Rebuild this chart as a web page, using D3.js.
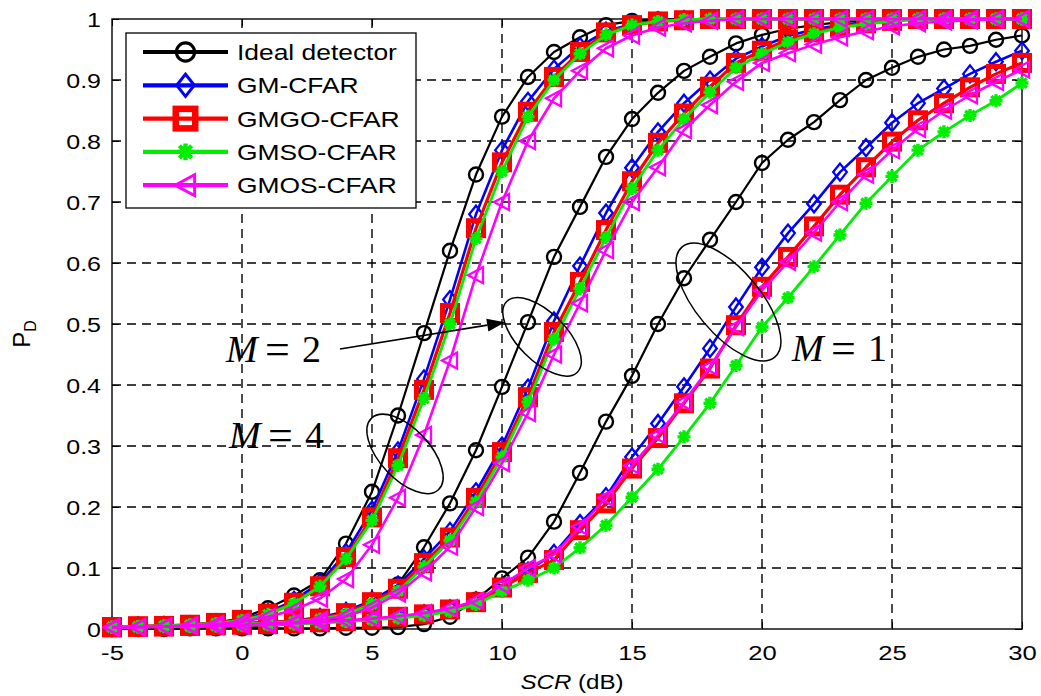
<!DOCTYPE html>
<html><head><meta charset="utf-8">
<script src="https://cdn.jsdelivr.net/npm/d3@7"></script>
<style>body{margin:0;background:#fff}</style>
</head><body><svg id="c" width="1041" height="696"></svg>
<script>
// ---------- data ----------
const snr = [-5,-4,-3,-2,-1,0,1,2,3,4,5,6,7,8,9,10,11,12,13,14,15,16,17,18,19,20,21,22,23,24,25,26,27,28,29,30];
const xTicks = [-5,0,5,10,15,20,25,30];
const xTickLabels = ["-5","0","5","10","15","20","25","30"];
const yTicks = [0,0.1,0.2,0.3,0.4,0.5,0.6,0.7,0.8,0.9,1];
const yTickLabels = ["0","0.1","0.2","0.3","0.4","0.5","0.6","0.7","0.8","0.9","1"];
const seriesNames = ["Ideal detector","GM-CFAR","GMGO-CFAR","GMSO-CFAR","GMOS-CFAR"];
const groups = ["M=4","M=2","M=1"];

// M = 4
const ideal_M4 = [0.002,0.003,0.004,0.006,0.010,0.018,0.034,0.055,0.080,0.140,0.225,0.350,0.485,0.620,0.745,0.840,0.905,0.946,0.970,0.990,0.997,0.999,1,1,1,1,1,1,1,1,1,1,1,1,1,1];
const gm_M4    = [0.003,0.004,0.005,0.007,0.010,0.016,0.027,0.047,0.076,0.125,0.195,0.292,0.410,0.540,0.680,0.785,0.865,0.918,0.955,0.980,0.992,0.997,0.999,1,1,1,1,1,1,1,1,1,1,1,1,1];
const gmgo_M4  = [0.003,0.004,0.005,0.007,0.010,0.015,0.025,0.043,0.070,0.118,0.183,0.280,0.392,0.518,0.657,0.765,0.848,0.905,0.946,0.978,0.990,0.996,0.998,1,1,1,1,1,1,1,1,1,1,1,1,1];
const gmso_M4  = [0.003,0.004,0.005,0.007,0.009,0.014,0.024,0.042,0.070,0.115,0.178,0.268,0.378,0.500,0.640,0.750,0.840,0.900,0.943,0.974,0.990,0.996,0.999,1,1,1,1,1,1,1,1,1,1,1,1,1];
const gmos_M4  = [0.002,0.003,0.004,0.006,0.008,0.012,0.020,0.031,0.050,0.082,0.138,0.215,0.318,0.440,0.580,0.700,0.800,0.870,0.915,0.952,0.973,0.986,0.993,0.997,1,1,1,1,1,1,1,1,1,1,1,1];
// M = 2
const ideal_M2 = [0.001,0.001,0.001,0.002,0.002,0.003,0.005,0.008,0.012,0.020,0.037,0.073,0.134,0.206,0.293,0.397,0.503,0.610,0.692,0.774,0.836,0.879,0.915,0.938,0.960,0.974,0.984,0.990,0.995,0.998,1,1,1,1,1,1];
const gm_M2    = [0.004,0.005,0.005,0.006,0.007,0.009,0.011,0.014,0.019,0.029,0.047,0.072,0.115,0.160,0.225,0.300,0.395,0.505,0.595,0.682,0.756,0.815,0.862,0.900,0.935,0.955,0.972,0.983,0.990,0.995,0.998,1,1,1,1,1];
const gmgo_M2  = [0.003,0.004,0.005,0.006,0.007,0.009,0.011,0.013,0.017,0.026,0.044,0.066,0.108,0.150,0.215,0.290,0.380,0.487,0.569,0.654,0.734,0.797,0.845,0.889,0.928,0.948,0.966,0.978,0.987,0.993,0.997,1,1,1,1,1];
const gmso_M2  = [0.003,0.004,0.005,0.006,0.007,0.008,0.010,0.012,0.016,0.024,0.041,0.062,0.102,0.145,0.208,0.282,0.372,0.475,0.558,0.642,0.722,0.785,0.836,0.880,0.920,0.943,0.962,0.976,0.986,0.992,0.996,1,1,1,1,1];
const gmos_M2  = [0.003,0.003,0.004,0.005,0.006,0.007,0.009,0.011,0.015,0.021,0.035,0.058,0.093,0.135,0.200,0.272,0.354,0.450,0.534,0.621,0.700,0.757,0.818,0.859,0.897,0.928,0.944,0.958,0.970,0.980,0.988,0.993,0.996,0.998,1,1];
// M = 1
const ideal_M1 = [0.000,0.000,0.000,0.001,0.001,0.001,0.001,0.001,0.001,0.002,0.002,0.003,0.008,0.020,0.048,0.083,0.117,0.176,0.256,0.340,0.415,0.500,0.575,0.638,0.700,0.764,0.802,0.831,0.867,0.900,0.920,0.938,0.950,0.956,0.966,0.973];
const gm_M1    = [0.004,0.004,0.005,0.005,0.006,0.007,0.008,0.009,0.011,0.013,0.016,0.020,0.025,0.033,0.046,0.070,0.095,0.124,0.173,0.217,0.282,0.337,0.397,0.460,0.528,0.593,0.649,0.697,0.749,0.789,0.830,0.862,0.886,0.910,0.930,0.948];
const gmgo_M1  = [0.003,0.004,0.004,0.005,0.006,0.007,0.008,0.009,0.011,0.013,0.016,0.020,0.024,0.032,0.044,0.068,0.092,0.113,0.162,0.206,0.263,0.313,0.370,0.427,0.498,0.561,0.610,0.660,0.712,0.757,0.799,0.834,0.862,0.888,0.910,0.928];
const gmso_M1  = [0.003,0.003,0.004,0.004,0.005,0.006,0.007,0.008,0.010,0.012,0.015,0.018,0.022,0.029,0.040,0.062,0.080,0.100,0.133,0.170,0.216,0.262,0.315,0.370,0.432,0.495,0.543,0.594,0.646,0.698,0.742,0.785,0.815,0.842,0.866,0.895];
const gmos_M1  = [0.003,0.003,0.004,0.005,0.005,0.006,0.007,0.009,0.011,0.014,0.017,0.021,0.026,0.034,0.046,0.072,0.100,0.122,0.168,0.215,0.268,0.318,0.372,0.430,0.495,0.555,0.602,0.650,0.700,0.745,0.785,0.820,0.850,0.875,0.897,0.917];

const seriesData = [
  [ideal_M4, ideal_M2, ideal_M1],
  [gm_M4, gm_M2, gm_M1],
  [gmgo_M4, gmgo_M2, gmgo_M1],
  [gmso_M4, gmso_M2, gmso_M1],
  [gmos_M4, gmos_M2, gmos_M1]
];

// ---------- styles ----------
const colors = ["#000000","#0000ff","#ff0000","#00ee00","#ff00ff"];
const markers = ["circle","diamond","square","star","triangleLeft"];
const lineWidths = [2.2, 2.6, 3.2, 2.8, 2.6];

const svg = d3.select("#c");
const W = 1041, H = 696;
const plot = {left:112, right:1022, top:19, bottom:629};
const x = d3.scaleLinear().domain([-5,30]).range([plot.left, plot.right]);
const y = d3.scaleLinear().domain([0,1]).range([plot.bottom, plot.top]);

svg.append("rect").attr("width",W).attr("height",H).attr("fill","#fff");

// grid
const grid = svg.append("g").attr("stroke","#000").attr("stroke-width",1.4).attr("stroke-dasharray","9,6");
grid.selectAll("line.v").data(xTicks.slice(1,-1)).join("line")
  .attr("x1",d=>x(d)).attr("x2",d=>x(d)).attr("y1",plot.top).attr("y2",plot.bottom);
grid.selectAll("line.h").data(yTicks.slice(1,-1)).join("line")
  .attr("y1",d=>y(d)).attr("y2",d=>y(d)).attr("x1",plot.left).attr("x2",plot.right);

// axes via d3.axis (ticks inward)
const fontSans = "'Liberation Sans', Arial, sans-serif";
const xAxis = svg.append("g").attr("transform",`translate(0,${plot.bottom})`)
  .call(d3.axisBottom(x).tickValues(xTicks).tickSize(-7).tickFormat((d,i)=>xTickLabels[i]).tickPadding(0));
xAxis.select(".domain").remove();
xAxis.selectAll("line").attr("stroke","#000");
xAxis.selectAll("text").attr("font-family",fontSans).attr("font-size",21).attr("fill","#000")
  .attr("y",0).attr("dy",0).attr("x",0)
  .attr("transform","translate(0,31) scale(1.22,1)");
const yAxis = svg.append("g").attr("transform",`translate(${plot.left},0)`)
  .call(d3.axisLeft(y).tickValues(yTicks).tickSize(-7).tickFormat((d,i)=>yTickLabels[i]).tickPadding(0));
yAxis.select(".domain").remove();
yAxis.selectAll("line").attr("stroke","#000");
yAxis.selectAll("text").attr("font-family",fontSans).attr("font-size",20).attr("fill","#000")
  .attr("x",0).attr("dy","0.36em").attr("text-anchor","end")
  .attr("transform","translate(-11,0) scale(1.25,1)");
// top & right ticks
svg.append("g").attr("transform",`translate(0,${plot.top})`)
  .call(d3.axisTop(x).tickValues(xTicks).tickSize(-7).tickFormat(""))
  .call(g=>{g.select(".domain").remove();g.selectAll("line").attr("stroke","#000");});
svg.append("g").attr("transform",`translate(${plot.right},0)`)
  .call(d3.axisRight(y).tickValues(yTicks).tickSize(-7).tickFormat(""))
  .call(g=>{g.select(".domain").remove();g.selectAll("line").attr("stroke","#000");});
// frame
svg.append("rect").attr("x",plot.left).attr("y",plot.top)
  .attr("width",plot.right-plot.left).attr("height",plot.bottom-plot.top)
  .attr("fill","none").attr("stroke","#000").attr("stroke-width",1.4);

// marker drawing
function drawMarker(g, type, color, s) {
  s = s || 1;
  switch(type){
    case "circle":
      g.append("circle").attr("r",7*s).attr("fill","none").attr("stroke",color).attr("stroke-width",2.4*s); break;
    case "diamond":
      g.append("path").attr("d",`M0,${-8.5*s}L${6.8*s},0L0,${8.5*s}L${-6.8*s},0Z`).attr("fill","none").attr("stroke",color).attr("stroke-width",2.3*s); break;
    case "square":
      g.append("rect").attr("x",-7.5*s).attr("y",-7.5*s).attr("width",15*s).attr("height",15*s).attr("fill","none").attr("stroke",color).attr("stroke-width",5*s); break;
    case "star": {
      const r=6.5*s, q=4.7*s;
      g.append("path").attr("d",`M${-r},0L${r},0M0,${-r}L0,${r}M${-q},${-q}L${q},${q}M${-q},${q}L${q},${-q}`)
        .attr("stroke",color).attr("stroke-width",3.4*s).attr("fill","none"); break; }
    case "triangleLeft":
      g.append("path").attr("d",`M${-8*s},0L${7*s},${-8*s}L${7*s},${8*s}Z`).attr("fill","none").attr("stroke",color).attr("stroke-width",2.3*s); break;
  }
}

const line = d3.line().x((d,i)=>x(snr[i])).y(d=>y(d));
const curves = svg.append("g");
seriesData.forEach((grpArr, si) => {
  grpArr.forEach((vals, gi) => {
    const g = curves.append("g").attr("class",`s${si} g${gi}`);
    g.append("path").datum(vals).attr("d",line).attr("fill","none")
      .attr("stroke",colors[si]).attr("stroke-width",lineWidths[si]).attr("stroke-linejoin","round");
    g.selectAll("g.m").data(vals).join("g").attr("class","m")
      .attr("transform",(d,i)=>`translate(${x(snr[i])},${y(d)})`)
      .each(function(){ drawMarker(d3.select(this), markers[si], colors[si], 1); });
  });
});

// annotations (data coordinates)
const ellipses = [
  {label:"M=4", cx:6.27, cy:0.287, rx:49, ry:25, angle:47},
  {label:"M=2", cx:11.54, cy:0.479, rx:50, ry:24, angle:45},
  {label:"M=1", cx:18.71, cy:0.536, rx:72, ry:32, angle:50}
];
svg.append("g").selectAll("ellipse").data(ellipses).join("ellipse")
  .attr("cx",0).attr("cy",0).attr("rx",d=>d.rx).attr("ry",d=>d.ry)
  .attr("transform",d=>`translate(${x(d.cx)},${y(d.cy)}) rotate(${d.angle})`)
  .attr("fill","none").attr("stroke","#000").attr("stroke-width",1.5);

const mLabels = [
  {num:"2", x:-0.62, y:0.438},
  {num:"4", x:-0.50, y:0.297},
  {num:"1", x:21.15, y:0.439}
];
const fontSerif = "'Liberation Serif', 'Times New Roman', serif";
mLabels.forEach(l=>{
  const x0 = x(l.x), yb = y(l.y);
  const t = svg.append("text").attr("font-family",fontSerif).attr("font-size",38).attr("fill","#000").attr("y",yb);
  t.append("tspan").attr("x",x0).attr("font-style","italic").text("M");
  t.append("tspan").attr("x",x0+39).attr("font-size",44).attr("dy",2).text("=");
  t.append("tspan").attr("x",x0+76).attr("dy",-2).text(l.num);
});

// arrow for M = 2
const arrow = {x1:3.77, y1:0.459, x2:10.12, y2:0.503};
{
  const X1=x(arrow.x1), Y1=y(arrow.y1), X2=x(arrow.x2), Y2=y(arrow.y2);
  const dx=X2-X1, dy=Y2-Y1, L=Math.hypot(dx,dy), ux=dx/L, uy=dy/L;
  const hl=18, hw=6.5;
  const bx=X2-ux*hl, by=Y2-uy*hl;
  svg.append("line").attr("x1",X1).attr("y1",Y1).attr("x2",bx).attr("y2",by).attr("stroke","#000").attr("stroke-width",1.7);
  svg.append("path").attr("d",`M${X2},${Y2}L${bx-uy*hw},${by+ux*hw}L${bx+uy*hw},${by-ux*hw}Z`).attr("fill","#000");
}

// legend
const leg = svg.append("g");
leg.append("rect").attr("x",126).attr("y",33).attr("width",290).attr("height",175)
  .attr("fill","#fff").attr("stroke","#000").attr("stroke-width",1.3);
seriesNames.forEach((name,i)=>{
  const yy = 52 + i*33.3;
  leg.append("line").attr("x1",143).attr("x2",228).attr("y1",yy).attr("y2",yy)
    .attr("stroke",colors[i]).attr("stroke-width",4.2);
  const mg = leg.append("g").attr("transform",`translate(185.5,${yy})`);
  drawMarker(mg, markers[i], colors[i], 1.3);
  leg.append("text").attr("font-family",fontSans).attr("font-size",22).attr("fill","#000")
    .attr("transform",`translate(237,${yy+8}) scale(1.2,1)`).text(name);
});

// axis titles
const xl = svg.append("text").attr("font-family",fontSans).attr("font-size",21).attr("fill","#000")
  .attr("text-anchor","middle").attr("transform",`translate(${(plot.left+plot.right)/2+5},689) scale(1.15,1)`);
xl.append("tspan").attr("font-style","italic").text("SCR");
xl.append("tspan").text(" (dB)");
const yl = svg.append("text").attr("font-family",fontSans).attr("font-size",24).attr("fill","#000")
  .attr("text-anchor","middle").attr("transform",`translate(30,${(plot.top+plot.bottom)/2+10}) rotate(-90)`);
yl.append("tspan").text("P");
yl.append("tspan").attr("font-size",16).attr("dy",6).text("D");
</script></body></html>
